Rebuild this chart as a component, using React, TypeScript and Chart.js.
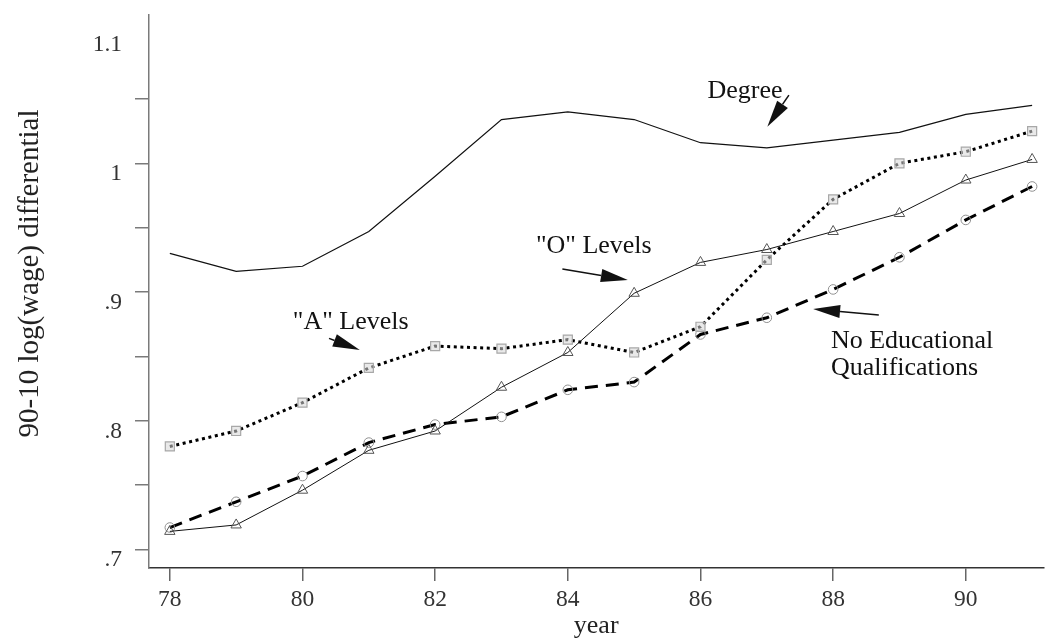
import { useEffect, useRef } from 'react';
import { Chart, registerables } from 'chart.js';

Chart.register(...registerables);

// ---- data ----
const years = [78, 79, 80, 81, 82, 83, 84, 85, 86, 87, 88, 89, 90, 91];
const degree = [0.930, 0.916, 0.920, 0.947, 0.990, 1.034, 1.040, 1.034, 1.016, 1.012, 1.018, 1.024, 1.038, 1.045];
const aLevels = [0.780, 0.792, 0.814, 0.841, 0.858, 0.856, 0.863, 0.853, 0.873, 0.925, 0.972, 1.000, 1.009, 1.025];
const oLevels = [0.714, 0.719, 0.746, 0.777, 0.792, 0.826, 0.853, 0.899, 0.923, 0.933, 0.947, 0.961, 0.987, 1.003];
const noQual = [0.717, 0.737, 0.757, 0.783, 0.797, 0.803, 0.824, 0.830, 0.867, 0.880, 0.902, 0.927, 0.956, 0.982];

const xTickValues = [78, 80, 82, 84, 86, 88, 90];
const yTickValues = [0.7, 0.75, 0.8, 0.85, 0.9, 0.95, 1.0, 1.05];
const yLabelValues = [0.7, 0.8, 0.9, 1.0, 1.1];
const yLabelTexts = ['.7', '.8', '.9', '1', '1.1'];

const xTitle = 'year';
const yTitle = '90-10 log(wage) differential';

// annotation anchors in data coordinates (year, value)
const annotationTexts = [
  { text: 'Degree', x: 86.106, y: 1.0507 },
  { text: '"O" Levels', x: 83.519, y: 0.9305 },
  { text: '"A" Levels', x: 79.855, y: 0.8713 },
  { text: 'No Educational', x: 87.966, y: 0.8563 },
  { text: 'Qualifications', x: 87.966, y: 0.8355 },
];
const annotationArrows = [
  { x1: 87.333, y1: 1.0530, x2: 87.008, y2: 1.0284 },
  { x1: 83.918, y1: 0.9179, x2: 84.905, y2: 0.9093 },
  { x1: 80.400, y1: 0.8640, x2: 80.864, y2: 0.8549 },
  { x1: 88.689, y1: 0.8821, x2: 87.698, y2: 0.8868 },
];

const X_MIN = 77.686;
const X_MAX = 91.17;
const Y_MIN = 0.68555;
const Y_MAX = 1.11523;
const LABEL_SHIFT = 0.0083;
const FONT = '"Liberation Serif", "Times New Roman", serif';

const annotatePlugin = {
  id: 'annotate',
  afterDatasetsDraw(chart: any) {
    const { ctx, chartArea } = chart;
    const xs = chart.scales.x;
    const ys = chart.scales.y;
    ctx.save();
    ctx.fillStyle = '#111';
    ctx.strokeStyle = '#111';
    ctx.font = `26px ${FONT}`;
    ctx.textAlign = 'left';
    ctx.textBaseline = 'alphabetic';
    for (const a of annotationTexts) {
      ctx.fillText(a.text, xs.getPixelForValue(a.x), ys.getPixelForValue(a.y));
    }
    for (const ar of annotationArrows) {
      const px1 = xs.getPixelForValue(ar.x1);
      const py1 = ys.getPixelForValue(ar.y1);
      const px2 = xs.getPixelForValue(ar.x2);
      const py2 = ys.getPixelForValue(ar.y2);
      const ang = Math.atan2(py2 - py1, px2 - px1);
      const c = Math.cos(ang);
      const s = Math.sin(ang);
      const headLen = 27;
      const headHalf = 6.5;
      const bx = px2 - headLen * c;
      const by = py2 - headLen * s;
      ctx.lineWidth = 1.5;
      ctx.beginPath();
      ctx.moveTo(px1, py1);
      ctx.lineTo(bx, by);
      ctx.stroke();
      ctx.beginPath();
      ctx.moveTo(px2, py2);
      ctx.lineTo(bx + headHalf * s, by - headHalf * c);
      ctx.lineTo(bx - headHalf * s, by + headHalf * c);
      ctx.closePath();
      ctx.fill();
    }
    // y axis title
    ctx.translate(30.6, (chartArea.top + chartArea.bottom) / 2 - 18);
    ctx.rotate(-Math.PI / 2);
    ctx.textAlign = 'center';
    ctx.textBaseline = 'middle';
    ctx.font = `29px ${FONT}`;
    ctx.fillStyle = '#222';
    ctx.fillText(yTitle, 0, 0);
    ctx.restore();
  },
};

const pts = (arr: number[]) => years.map((yr, i) => ({ x: yr, y: arr[i] }));

export default function App() {
  const ref = useRef<HTMLCanvasElement | null>(null);
  useEffect(() => {
    if (!ref.current) return;
    Chart.defaults.font.family = FONT;
    const chart = new Chart(ref.current, {
      type: 'line',
      data: {
        datasets: [
          {
            label: 'Degree',
            data: pts(degree),
            borderColor: '#111',
            borderWidth: 1.2,
            pointRadius: 0,
            fill: false,
          },
          {
            label: '"A" Levels',
            data: pts(aLevels),
            borderColor: '#000',
            borderWidth: 3,
            borderDash: [3, 3.6],
            pointStyle: 'rect',
            pointRadius: 6.4,
            pointBorderColor: '#a8a8a8',
            pointBackgroundColor: 'rgba(215,215,215,0.55)',
            pointBorderWidth: 1.2,
            fill: false,
          },
          {
            label: '"O" Levels',
            data: pts(oLevels),
            borderColor: '#111',
            borderWidth: 1,
            pointStyle: 'triangle',
            pointRadius: 6,
            pointBorderColor: '#555',
            pointBackgroundColor: 'rgba(0,0,0,0)',
            pointBorderWidth: 1,
            fill: false,
          },
          {
            label: 'No Educational Qualifications',
            data: pts(noQual),
            borderColor: '#000',
            borderWidth: 3,
            borderDash: [13, 8],
            pointStyle: 'circle',
            pointRadius: 4.8,
            pointBorderColor: '#909090',
            pointBackgroundColor: 'rgba(0,0,0,0)',
            pointBorderWidth: 1,
            fill: false,
          },
        ],
      },
      options: {
        responsive: false,
        animation: false,
        events: [],
        layout: { padding: { left: 0, top: 15, right: 1, bottom: 0 } },
        plugins: { legend: { display: false }, tooltip: { enabled: false } },
        scales: {
          x: {
            type: 'linear',
            position: 'bottom',
            min: X_MIN,
            max: X_MAX,
            afterBuildTicks: (s: any) => {
              s.ticks = xTickValues.map((v) => ({ value: v }));
            },
            afterFit: (s: any) => {
              s.height = 74;
              s.paddingLeft = 0;
              s.paddingRight = 0;
            },
            grid: { drawOnChartArea: false, drawTicks: true, tickLength: 13, color: '#666', lineWidth: 1.5 },
            border: { display: true, color: '#333', width: 1.5 },
            ticks: {
              autoSkip: false,
              maxRotation: 0,
              padding: 5,
              color: '#333',
              font: { size: 23.5 },
              callback: (v: any) => String(v),
            },
            title: { display: true, text: xTitle, color: '#222', font: { size: 26 }, padding: { top: 0, bottom: 0 } },
          },
          y: {
            type: 'linear',
            position: 'left',
            weight: 0,
            min: Y_MIN,
            max: Y_MAX,
            afterBuildTicks: (s: any) => {
              s.ticks = yTickValues.map((v) => ({ value: v }));
            },
            afterFit: (s: any) => {
              s.width = 14;
              s.paddingTop = 0;
              s.paddingBottom = 0;
            },
            grid: { drawOnChartArea: false, drawTicks: true, tickLength: 14, color: '#7a7a7a', lineWidth: 1.5 },
            border: { display: true, color: '#7a7a7a', width: 1.5 },
            ticks: { display: false },
          },
          yLabels: {
            type: 'linear',
            position: 'left',
            weight: 1,
            min: Y_MIN + LABEL_SHIFT,
            max: Y_MAX + LABEL_SHIFT,
            afterBuildTicks: (s: any) => {
              s.ticks = yLabelValues.map((v) => ({ value: v }));
            },
            afterFit: (s: any) => {
              s.width = 135;
              s.paddingTop = 0;
              s.paddingBottom = 0;
            },
            grid: { display: false, drawTicks: false },
            border: { display: false },
            ticks: {
              autoSkip: false,
              padding: 13,
              color: '#333',
              font: { size: 23.5 },
              callback: (_v: any, i: number) => yLabelTexts[i],
            },
          },
        },
      } as any,
      plugins: [annotatePlugin],
    });
    return () => chart.destroy();
  }, []);

  return (
    <div style={{ position: 'absolute', left: 0, top: 0, width: 1051, height: 642, background: '#fff' }}>
      <canvas ref={ref} width={1051} height={642} style={{ display: 'block' }} />
    </div>
  );
}
